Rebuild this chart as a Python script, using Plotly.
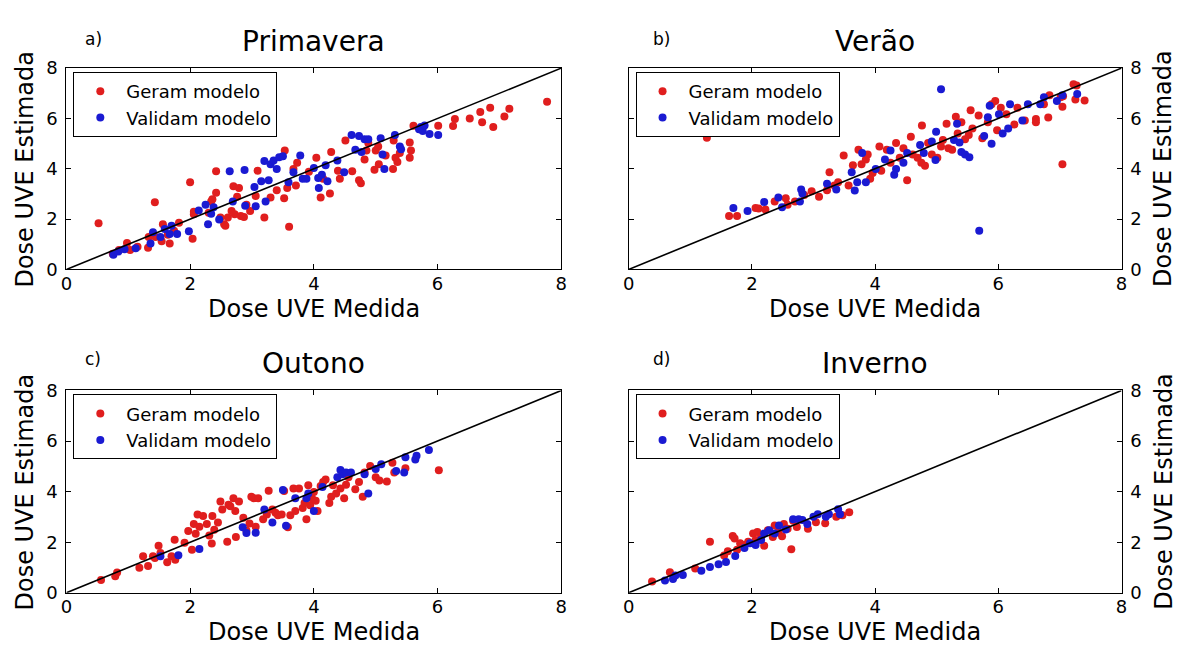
import plotly.graph_objects as go

FONT = "DejaVu Sans"
RED = "#e01e1e"
BLUE = "#1a1ad2"

# ---------------- a) Primavera ----------------
prim_ger_x = [0.52, 0.75, 0.85, 0.98, 1.03, 1.15, 1.32, 1.33, 1.43, 1.44, 1.54, 1.56, 1.64, 1.67,
              1.74, 1.82, 2.00, 2.04, 2.06, 2.06, 2.30, 2.34, 2.36, 2.42, 2.42, 2.49, 2.55, 2.57,
              2.61, 2.67, 2.70, 2.72, 2.76, 2.79, 2.82, 2.87, 2.91, 2.97, 3.06, 3.09, 3.20, 3.30,
              3.40, 3.52, 3.53, 3.57, 3.60, 3.67, 3.71, 3.73, 3.92, 4.04, 4.11, 4.15, 4.26, 4.28,
              4.39, 4.42, 4.51, 4.62, 4.73, 4.76, 4.82, 4.85, 4.88, 4.98, 5.00, 5.04, 5.05, 5.16,
              5.28, 5.29, 5.32, 5.35, 5.39, 5.55, 5.55, 5.57, 5.61, 6.01, 6.25, 6.28, 6.52, 6.69,
              6.72, 6.85, 6.90, 7.08, 7.16, 7.77]
prim_ger_y = [1.84, 0.62, 0.77, 1.05, 0.77, 0.90, 0.86, 1.29, 2.67, 1.29, 1.12, 1.80, 1.38, 1.03,
              1.54, 1.86, 3.47, 1.22, 2.29, 2.19, 2.25, 2.70, 2.79, 3.90, 3.05, 2.06, 1.80, 1.74,
              2.06, 2.32, 3.31, 2.19, 2.89, 3.24, 2.12, 2.08, 2.57, 2.32, 2.92, 3.92, 2.06, 2.86,
              3.15, 2.83, 4.73, 3.24, 1.70, 3.99, 3.34, 4.24, 3.88, 4.44, 2.86, 3.60, 3.02, 4.67,
              3.92, 3.60, 5.12, 3.90, 3.54, 3.43, 4.37, 4.73, 5.02, 3.96, 4.73, 4.89, 4.18, 4.53,
              3.99, 5.12, 4.44, 4.27, 4.63, 5.04, 4.44, 4.73, 5.71, 5.71, 5.70, 5.98, 6.00, 6.26,
              5.85, 6.43, 5.66, 6.08, 6.39, 6.66]
prim_val_x = [0.76, 0.84, 0.94, 1.12, 1.36, 1.40, 1.52, 1.59, 1.67, 1.70, 1.79, 1.98, 2.14, 2.25,
              2.29, 2.34, 2.38, 2.47, 2.64, 2.69, 2.88, 2.89, 3.04, 3.06, 3.15, 3.20, 3.22, 3.27,
              3.30, 3.35, 3.40, 3.44, 3.50, 3.59, 3.67, 3.78, 3.82, 3.88, 4.00, 4.07, 4.08, 4.13,
              4.19, 4.22, 4.38, 4.49, 4.61, 4.67, 4.73, 4.77, 4.82, 4.88, 5.08, 5.11, 5.14, 5.31,
              5.39, 5.41, 5.70, 5.73, 5.76, 5.79, 5.87, 6.01]
prim_val_y = [0.58, 0.71, 0.80, 0.84, 1.03, 1.48, 1.29, 1.61, 1.41, 1.74, 1.41, 1.52, 2.34, 2.57,
              1.80, 2.21, 2.47, 1.99, 3.90, 2.70, 3.95, 2.53, 3.28, 2.51, 3.50, 4.31, 2.70, 3.54,
              4.18, 4.33, 3.99, 4.46, 4.50, 3.47, 3.86, 4.53, 3.60, 3.60, 4.03, 3.63, 3.24, 3.76,
              4.14, 3.50, 4.33, 3.86, 5.34, 4.76, 5.30, 4.67, 5.17, 5.17, 5.21, 4.57, 3.99, 5.34,
              4.89, 4.78, 5.57, 5.66, 5.50, 5.72, 5.38, 5.34]

# ---------------- b) Verão ----------------
ver_ger_x = [1.27, 1.63, 1.76, 2.06, 2.11, 2.22, 2.37, 2.55, 2.58, 2.70, 2.85, 2.97, 3.09, 3.22,
             3.26, 3.34, 3.40, 3.49, 3.57, 3.64, 3.73, 3.78, 3.85, 3.88, 3.92, 3.96, 4.07, 4.10,
             4.19, 4.25, 4.34, 4.40, 4.46, 4.52, 4.58, 4.61, 4.69, 4.75, 4.76, 4.81, 4.86, 4.92,
             5.01, 5.07, 5.10, 5.16, 5.19, 5.25, 5.31, 5.34, 5.40, 5.46, 5.52, 5.55, 5.58, 5.68,
             5.74, 5.83, 5.89, 5.95, 5.98, 6.04, 6.13, 6.26, 6.31, 6.43, 6.61, 6.61, 6.74, 6.81,
             6.83, 7.01, 7.04, 7.04, 7.05, 7.22, 7.27, 7.25, 7.40]
ver_ger_y = [5.23, 2.12, 2.12, 2.44, 2.42, 2.38, 2.70, 2.83, 2.57, 2.70, 2.96, 3.11, 2.89, 3.15,
             3.86, 3.34, 3.47, 4.53, 3.34, 4.14, 4.76, 4.18, 4.37, 4.57, 3.60, 3.83, 4.89, 3.92,
             4.76, 4.24, 5.02, 4.44, 4.82, 3.54, 5.27, 4.57, 4.44, 4.24, 5.72, 4.12, 5.02, 4.57,
             4.44, 4.89, 5.14, 5.79, 4.82, 4.76, 6.07, 5.40, 5.85, 5.17, 5.34, 6.33, 5.60, 6.12,
             5.21, 5.85, 6.56, 6.69, 5.53, 6.43, 6.17, 5.76, 6.43, 5.92, 5.98, 5.85, 6.56, 6.04,
             6.92, 6.84, 6.46, 4.18, 6.88, 7.36, 7.31, 6.75, 6.71]
ver_val_x = [1.70, 1.93, 2.20, 2.43, 2.49, 2.80, 2.78, 2.82, 3.22, 3.37, 3.62, 3.67, 3.71, 3.79,
             3.85, 4.01, 4.16, 4.25, 4.31, 4.34, 4.46, 4.52, 4.73, 4.79, 4.92, 4.98, 4.99, 5.07,
             5.28, 5.33, 5.37, 5.40, 5.46, 5.53, 5.69, 5.77, 5.83, 5.86, 5.89, 6.01, 6.07, 6.16,
             6.19, 6.39, 6.48, 6.68, 6.74, 6.95, 7.04, 7.28]
ver_val_y = [2.44, 2.32, 2.68, 2.86, 2.47, 3.18, 2.70, 3.02, 3.41, 3.18, 3.86, 3.14, 3.47, 4.63,
             3.47, 3.99, 4.37, 4.73, 3.76, 3.99, 4.24, 4.63, 4.95, 4.63, 5.08, 4.35, 5.47, 7.16,
             5.14, 5.79, 5.04, 4.67, 4.57, 4.46, 1.54, 5.30, 6.05, 6.50, 4.99, 6.17, 5.40, 5.60,
             6.56, 5.92, 6.56, 6.56, 6.84, 6.69, 6.92, 6.97]

# ---------------- c) Outono ----------------
out_ger_x = [0.56, 0.79, 0.82, 1.18, 1.24, 1.32, 1.40, 1.43, 1.49, 1.52, 1.63, 1.70, 1.75, 1.76,
             1.91, 1.97, 2.03, 2.06, 2.09, 2.12, 2.15, 2.21, 2.27, 2.31, 2.35, 2.36, 2.39, 2.45,
             2.49, 2.52, 2.60, 2.62, 2.65, 2.70, 2.73, 2.74, 2.79, 2.86, 2.91, 2.96, 2.99, 3.03,
             3.06, 3.10, 3.18, 3.24, 3.27, 3.33, 3.38, 3.42, 3.48, 3.52, 3.58, 3.62, 3.67, 3.70,
             3.76, 3.82, 3.85, 3.88, 3.91, 3.94, 3.97, 4.00, 4.03, 4.06, 4.11, 4.15, 4.19, 4.25,
             4.28, 4.31, 4.36, 4.43, 4.49, 4.52, 4.56, 4.67, 4.73, 4.79, 4.82, 4.91, 5.00, 5.06,
             5.18, 5.27, 5.30, 5.48, 6.02]
out_ger_y = [0.51, 0.65, 0.80, 0.99, 1.44, 1.06, 1.44, 1.38, 1.86, 1.57, 1.21, 1.44, 2.10, 1.31,
             1.98, 2.44, 1.70, 2.72, 2.33, 3.10, 2.61, 3.04, 2.72, 2.27, 1.95, 3.04, 2.49, 2.78,
             3.61, 3.29, 2.02, 3.48, 3.42, 3.74, 3.23, 2.21, 3.61, 2.97, 2.46, 2.74, 3.80, 3.74,
             2.61, 3.74, 2.91, 3.10, 4.03, 3.29, 3.16, 3.07, 3.10, 4.02, 2.59, 3.07, 4.12, 3.23,
             4.12, 3.35, 3.55, 2.91, 4.25, 3.46, 3.74, 3.99, 3.64, 3.23, 4.22, 4.38, 4.48, 3.55,
             3.80, 4.25, 3.93, 4.12, 3.74, 4.27, 4.57, 4.09, 4.38, 3.80, 4.76, 5.01, 4.57, 4.44,
             4.40, 5.14, 4.76, 4.92, 4.85]
out_val_x = [1.52, 1.81, 2.15, 2.85, 2.91, 3.06, 3.20, 3.33, 3.50, 3.55, 3.70, 3.88, 3.91, 4.00,
             4.14, 4.38, 4.43, 4.46, 4.52, 4.60, 4.82, 4.88, 5.00, 5.09, 5.33, 5.46, 5.48, 5.64,
             5.66, 5.86]
out_val_y = [1.44, 1.48, 1.73, 2.59, 2.36, 2.37, 3.29, 2.78, 4.06, 2.65, 3.74, 3.74, 3.93, 3.23,
             4.18, 4.57, 4.86, 4.69, 4.76, 4.76, 4.69, 3.93, 4.89, 5.08, 4.82, 4.76, 5.36, 5.27,
             5.42, 5.65]

# ---------------- d) Inverno ----------------
inv_ger_x = [0.38, 0.67, 1.08, 1.32, 1.55, 1.61, 1.69, 1.72, 1.76, 1.81, 1.88, 1.94, 2.02, 2.06,
             2.09, 2.15, 2.20, 2.26, 2.34, 2.37, 2.43, 2.49, 2.52, 2.58, 2.64, 2.67, 2.73, 2.91,
             3.04, 3.19, 3.37, 3.47, 3.58]
inv_ger_y = [0.45, 0.81, 0.96, 2.02, 1.47, 1.64, 2.25, 2.15, 1.70, 1.96, 1.89, 2.02, 2.34, 2.09,
             2.40, 2.21, 1.86, 2.47, 2.21, 2.66, 2.40, 2.24, 2.72, 2.53, 1.72, 2.85, 2.60, 2.53,
             2.79, 2.75, 3.01, 3.07, 3.18]
inv_val_x = [0.59, 0.72, 0.76, 0.88, 1.18, 1.32, 1.46, 1.58, 1.73, 1.88, 1.97, 2.06, 2.15, 2.20,
             2.28, 2.37, 2.44, 2.55, 2.67, 2.76, 2.82, 2.90, 3.00, 3.07, 3.20, 3.25, 3.40, 3.43]
inv_val_y = [0.49, 0.55, 0.68, 0.70, 0.87, 1.02, 1.13, 1.22, 1.45, 1.77, 1.96, 1.89, 2.09, 2.34,
             2.47, 2.34, 2.66, 2.50, 2.91, 2.91, 2.88, 2.72, 3.01, 3.11, 3.01, 3.11, 3.30, 3.11]

# 1:1 reference line
line_x = [0, 8]
line_y = [0, 8]

tick_vals = [0, 2, 4, 6, 8]
tick_text = ["0", "2", "4", "6", "8"]

panels = [
    ("a)", "Primavera", prim_ger_x, prim_ger_y, prim_val_x, prim_val_y),
    ("b)", "Verão", ver_ger_x, ver_ger_y, ver_val_x, ver_val_y),
    ("c)", "Outono", out_ger_x, out_ger_y, out_val_x, out_val_y),
    ("d)", "Inverno", inv_ger_x, inv_ger_y, inv_val_x, inv_val_y),
]

W, H = 1184, 657
# plot-area boxes in pixels: (left, right, top, bottom)
boxes = [(61, 561, 59, 267), (629, 1127, 59, 267),
         (61, 561, 392, 601), (629, 1127, 392, 601)]
# panel-tag offsets from the box's top-left corner (dx, dy above)
tag_offsets = [(27, 30), (33, 30), (27, 33), (33, 33)]

fig = go.Figure()
layout = dict(
    width=W, height=H,
    margin=dict(l=0, r=0, t=0, b=0),
    paper_bgcolor="white", plot_bgcolor="white",
    font=dict(family=FONT, color="black", size=18),
    annotations=[],
)

for i, (tag, title, gx, gy, vx, vy) in enumerate(panels):
    n = "" if i == 0 else str(i + 1)
    xa, ya = "x" + n, "y" + n
    leg = "legend" + n
    left, right, top, bottom = boxes[i]
    x0, x1 = left / W, right / W
    y0, y1 = 1 - bottom / H, 1 - top / H
    right_side = i in (1, 3)

    fig.add_trace(go.Scatter(x=gx, y=gy, mode="markers", name="Geram modelo",
                             marker=dict(color=RED, size=8, symbol="circle"),
                             xaxis=xa, yaxis=ya, legend=leg))
    fig.add_trace(go.Scatter(x=vx, y=vy, mode="markers", name="Validam modelo",
                             marker=dict(color=BLUE, size=8, symbol="circle"),
                             xaxis=xa, yaxis=ya, legend=leg))
    fig.add_trace(go.Scatter(x=line_x, y=line_y, mode="lines",
                             line=dict(color="black", width=1.6),
                             showlegend=False, xaxis=xa, yaxis=ya))

    axis_common = dict(range=[0, 8], tickvals=tick_vals, ticktext=tick_text,
                       ticks="inside", ticklen=5, tickwidth=1, tickcolor="black",
                       showline=True, linecolor="black", linewidth=1, mirror="ticks",
                       showgrid=False, zeroline=False,
                       tickfont=dict(family=FONT, size=18, color="black"))
    layout["xaxis" + n] = dict(axis_common, domain=[x0, x1], anchor=ya,
                               ticklabelstandoff=-2)
    layout["yaxis" + n] = dict(axis_common, domain=[y0, y1], anchor=xa,
                               side="right" if right_side else "left",
                               ticklabelstandoff=4)

    layout[leg] = dict(x=(left + 7) / W, y=1 - (top + 4) / H,
                       xanchor="left", yanchor="top",
                       bgcolor="white", bordercolor="black", borderwidth=1,
                       font=dict(family=FONT, size=18, color="black"),
                       itemwidth=42, tracegroupgap=0)

    cx = (left + right) / 2
    # panel title
    layout["annotations"].append(dict(text=title, x=cx / W, y=1 - (top - 28) / H,
                                      xref="paper", yref="paper", showarrow=False,
                                      xanchor="center", yanchor="middle",
                                      font=dict(family=FONT, size=28, color="black")))
    # panel tag
    dx, dy = tag_offsets[i]
    layout["annotations"].append(dict(text=tag, x=(left + dx) / W, y=1 - (top - dy) / H,
                                      xref="paper", yref="paper", showarrow=False,
                                      xanchor="center", yanchor="middle",
                                      font=dict(family=FONT, size=17, color="black")))
    # x-axis title
    layout["annotations"].append(dict(text="Dose UVE Medida", x=cx / W,
                                      y=1 - (bottom + 41) / H,
                                      xref="paper", yref="paper", showarrow=False,
                                      xanchor="center", yanchor="middle",
                                      font=dict(family=FONT, size=24, color="black")))
    # y-axis title
    ytx = 1169 if right_side else 19
    layout["annotations"].append(dict(text="Dose UVE Estimada", x=ytx / W,
                                      y=1 - ((top + bottom) / 2) / H,
                                      xref="paper", yref="paper", showarrow=False,
                                      textangle=-90, xanchor="center", yanchor="middle",
                                      font=dict(family=FONT, size=24, color="black")))

fig.update_layout(**layout)
fig.write_html("out.html")
